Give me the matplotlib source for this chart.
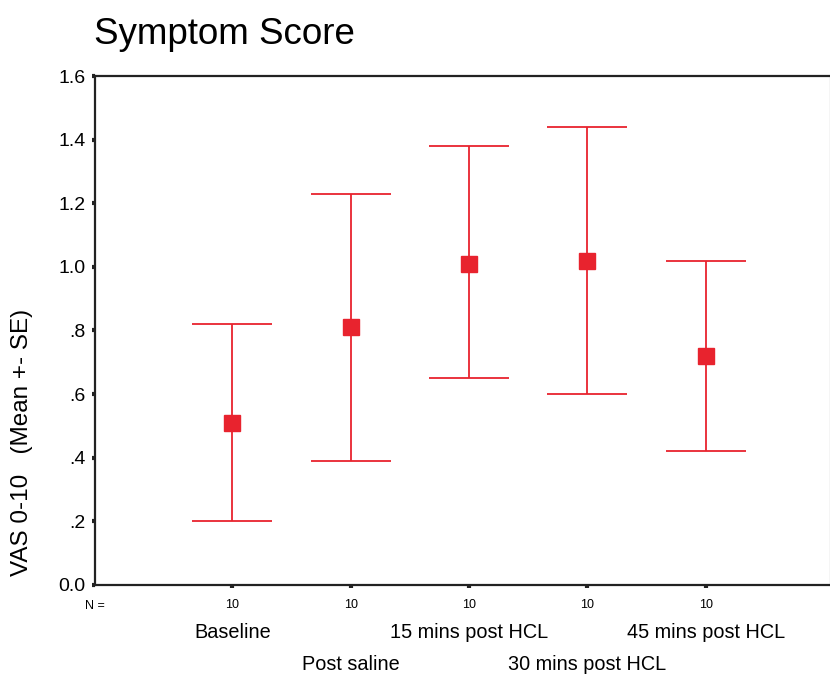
import matplotlib
matplotlib.use("Agg")
import matplotlib.pyplot as plt
import matplotlib.transforms as mtransforms

plt.rcParams['font.family'] = ['Liberation Sans', 'DejaVu Sans']

# donnees
categories = ["Baseline", "Post saline", "15 mins post HCL", "30 mins post HCL", "45 mins post HCL"]
n_values = [10, 10, 10, 10, 10]
means = [0.51, 0.81, 1.01, 1.02, 0.72]
upper = [0.82, 1.23, 1.38, 1.44, 1.02]
lower = [0.20, 0.39, 0.65, 0.60, 0.42]
ytick_vals = [0.0, 0.2, 0.4, 0.6, 0.8, 1.0, 1.2, 1.4, 1.6]
ytick_labels = ["0.0", ".2", ".4", ".6", ".8", "1.0", "1.2", "1.4", "1.6"]

red = '#e8232e'

fig = plt.figure(figsize=(8.3, 6.77), dpi=100)
ax = fig.add_axes([0.1145, 0.136, 0.8855, 0.7517])

pos = list(range(len(categories)))
err_low = [m - l for m, l in zip(means, lower)]
err_high = [u - m for m, u in zip(means, upper)]
ax.errorbar(pos, means, yerr=[err_low, err_high], fmt='s', color=red,
            markersize=12, elinewidth=1.3, capsize=29, capthick=1.3)

ax.set_xlim(-1.16, 5.05)
ax.set_ylim(0, 1.6)
ax.set_yticks(ytick_vals, labels=ytick_labels, fontsize=14)
ax.set_xticks(pos, labels=[str(n) for n in n_values], fontsize=9)
ax.tick_params(axis='both', direction='out', length=2, width=3, color='#222222')
ax.tick_params(axis='x', pad=8)
ax.tick_params(axis='y', pad=5)

for s in ['left', 'bottom', 'top']:
    ax.spines[s].set_linewidth(1.6)
    ax.spines[s].set_color('#222222')
ax.spines['right'].set_color('#cccccc')
ax.spines['right'].set_linewidth(1)

# N = et noms des groupes (alternes sur deux lignes)
trans = mtransforms.blended_transform_factory(ax.transData, fig.transFigure)
fig.text(0.102, 1 - 606 / 677, "N =", fontsize=9, va='center')
for i, cat in enumerate(categories):
    yy = 1 - 633 / 677 if i % 2 == 0 else 1 - 664 / 677
    ax.text(i, yy, cat, transform=trans, ha='center', va='center', fontsize=14.3)

fig.text(0.113, 1 - 35 / 677, "Symptom Score", fontsize=26.5, va='center', ha='left')
fig.text(0.027, 1 - 442 / 677, "VAS 0-10   (Mean +- SE)", rotation=90,
         fontsize=17.5, va='center', ha='center')

fig.savefig("out.png", dpi=100)
